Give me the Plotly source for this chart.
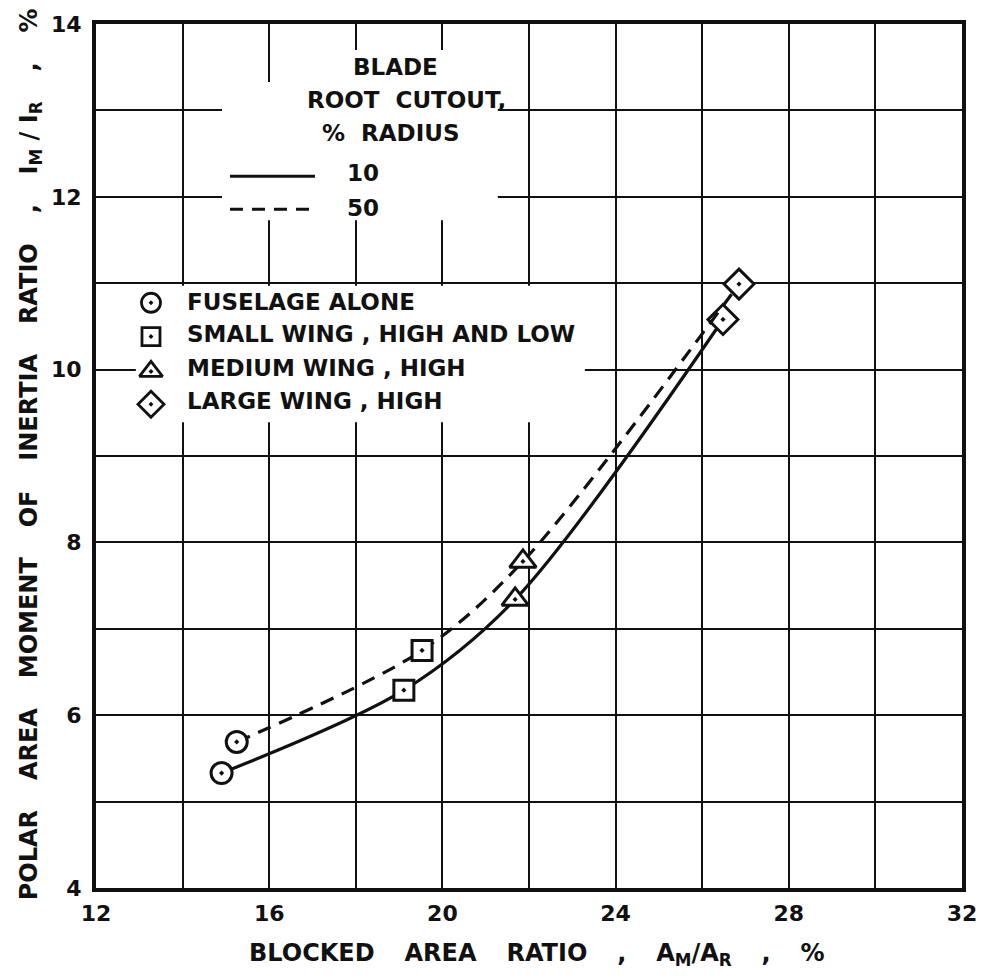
import plotly.graph_objects as go

# Blocked area ratio A_M/A_R (%) and polar moment ratio I_M/I_R (%)
# for each configuration, at two blade root cutouts.
configs = ["FUSELAGE ALONE", "SMALL WING , HIGH AND LOW", "MEDIUM WING , HIGH", "LARGE WING , HIGH"]
symbols = ["circle-dot", "square-dot", "triangle-up-dot", "diamond-dot"]

cutout_10_x = [14.9, 19.11, 21.68, 26.48]
cutout_10_y = [5.33, 6.29, 7.34, 10.58]
cutout_50_x = [15.25, 19.53, 21.86, 26.85]
cutout_50_y = [5.69, 6.75, 7.78, 10.99]

x_ticks = [12, 16, 20, 24, 28, 32]
y_ticks = [4, 6, 8, 10, 12, 14]

FONT = "DejaVu Sans"
INK = "#111111"
TXT = dict(family=FONT, size=23, color=INK, weight="bold")
TITLE = dict(family=FONT, size=24, color=INK, weight="bold")
TICK = dict(family=FONT, size=22, color=INK, weight="bold")

fig = go.Figure()

marker_style = dict(size=[21, 20, 23, 23], color="white", symbol=symbols, opacity=1,
                    line=dict(color=INK, width=3))

fig.add_trace(go.Scatter(
    x=cutout_10_x, y=cutout_10_y, mode="lines+markers",
    line=dict(color=INK, width=3.2, shape="spline", smoothing=0.9),
    marker=marker_style, showlegend=False, cliponaxis=False))

fig.add_trace(go.Scatter(
    x=cutout_50_x, y=cutout_50_y, mode="lines+markers",
    line=dict(color=INK, width=3.2, shape="spline", smoothing=0.9, dash="14px,9px"),
    marker=marker_style, showlegend=False, cliponaxis=False))

# Key for the configuration symbols, on a helper axis spanning the plot area
key_x = 0.0635
key_rows = [0.6774, 0.6382, 0.5979, 0.5599]
fig.add_trace(go.Scatter(
    x=[key_x] * 4, y=key_rows, mode="markers", xaxis="x2", yaxis="y2",
    marker=dict(size=[19, 18, 20, 20], color="white", symbol=symbols, opacity=1,
                line=dict(color=INK, width=2.8)),
    showlegend=False, hoverinfo="skip"))

annotations = []
for label, yy in zip(configs, [0.6786, 0.6417, 0.6014, 0.5634]):
    annotations.append(dict(x=0.1028, y=yy, xref="paper", yref="paper", text=label,
                            showarrow=False, xanchor="left", yanchor="middle", font=TXT))

# Root cutout key
for text, xx, yy in [("BLADE", 0.3453, 0.9505), ("ROOT\u00a0 CUTOUT,", 0.3591, 0.9124),
                     ("%\u00a0 RADIUS", 0.3406, 0.8744)]:
    annotations.append(dict(x=xx, y=yy, xref="paper", yref="paper", text=text,
                            showarrow=False, xanchor="center", yanchor="middle", font=TXT))
for text, yy in [("10", 0.8272), ("50", 0.7869)]:
    annotations.append(dict(x=0.2875, y=yy, xref="paper", yref="paper", text=text,
                            showarrow=False, xanchor="left", yanchor="middle", font=TXT))

# Axis titles, lettered with wide word spacing
GAP = "\u00a0" * 3 + "\u2009"
annotations.append(dict(
    x=-0.0762, y=0.502, xref="paper", yref="paper", textangle=-90,
    text=GAP.join(["POLAR", "AREA", "MOMENT", "OF", "INERTIA", "RATIO", ",",
                   "I<sub>M</sub>\u00a0/\u00a0I<sub>R</sub>", ",", "%"]),
    showarrow=False, xanchor="center", yanchor="middle", font=TITLE))
annotations.append(dict(
    x=0.509, y=-0.0772, xref="paper", yref="paper",
    text=GAP.join(["BLOCKED", "AREA", "RATIO", ",", "A<sub>M</sub>/A<sub>R</sub>", ",", "%"]),
    showarrow=False, xanchor="center", yanchor="middle", font=TITLE))

shapes = [
    # white panels behind the keys, interrupting the grid
    dict(type="rect", xref="x", yref="y", x0=14.91, x1=21.28, y0=11.73, y1=13.33,
         fillcolor="white", line=dict(width=0), layer="between"),
    dict(type="rect", xref="x", yref="y", x0=16.71, x1=21.28, y0=13.30, y1=13.70,
         fillcolor="white", line=dict(width=0), layer="between"),
    dict(type="rect", xref="x", yref="y", x0=12.92, x1=23.29, y0=9.39, y1=10.97,
         fillcolor="white", line=dict(width=0), layer="between"),
    # line samples
    dict(type="line", xref="paper", yref="paper", x0=0.1547, x1=0.2529, y0=0.8237, y1=0.8237,
         line=dict(color=INK, width=3)),
    dict(type="line", xref="paper", yref="paper", x0=0.1547, x1=0.2529, y0=0.7857, y1=0.7857,
         line=dict(color=INK, width=3, dash="13px,9px")),
]

axis_common = dict(showline=True, linecolor=INK, linewidth=4, mirror=True,
                   showgrid=True, gridcolor=INK, gridwidth=2, zeroline=False,
                   ticks="", tickfont=TICK)

fig.update_layout(
    width=993, height=980,
    margin=dict(l=96, r=31, t=20, b=92),
    paper_bgcolor="white", plot_bgcolor="white",
    xaxis=dict(range=[12, 32], tickvals=x_ticks, ticktext=[str(v) for v in x_ticks],
               minor=dict(dtick=2, tick0=12, showgrid=True, gridcolor=INK, gridwidth=2),
               ticklabelstandoff=3, **axis_common),
    yaxis=dict(range=[4, 14], tickvals=y_ticks, ticktext=[str(v) for v in y_ticks],
               minor=dict(dtick=1, tick0=4, showgrid=True, gridcolor=INK, gridwidth=2),
               ticklabelstandoff=6, **axis_common),
    xaxis2=dict(range=[0, 1], overlaying="x", visible=False, fixedrange=True),
    yaxis2=dict(range=[0, 1], overlaying="y", visible=False, fixedrange=True),
    annotations=annotations,
    shapes=shapes,
    showlegend=False,
)

fig.write_html("out.html")
